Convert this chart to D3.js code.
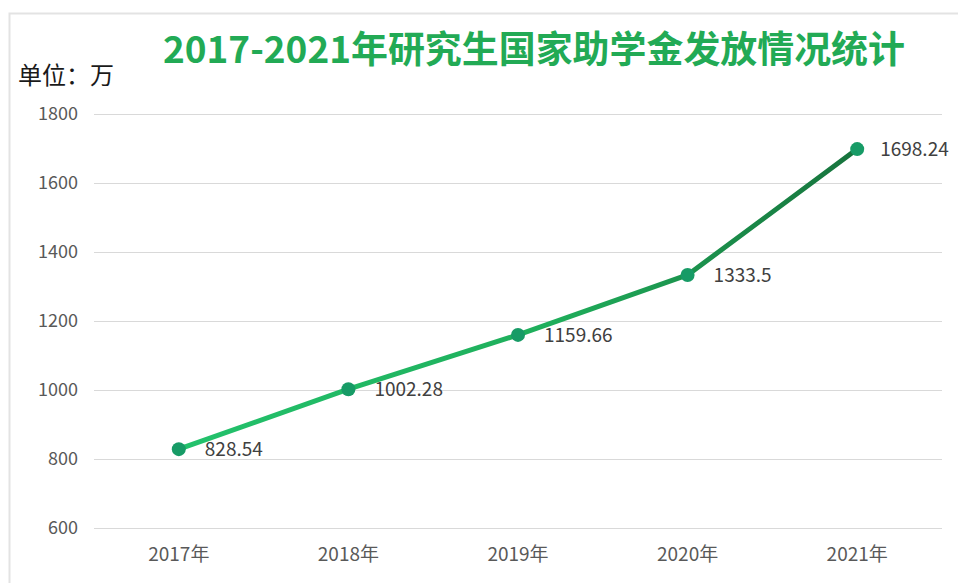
<!DOCTYPE html>
<html>
<head>
<meta charset="utf-8">
<script src="https://cdn.jsdelivr.net/npm/d3@7"></script>
<style>
  html, body { margin: 0; padding: 0; background: #fff; }
  svg { display: block; }
</style>
</head>
<body>
<div id="chart"></div>
<script>
// Données
const years = ["2017年", "2018年", "2019年", "2020年", "2021年"];
const amounts = [828.54, 1002.28, 1159.66, 1333.5, 1698.24];
const labels = ["828.54", "1002.28", "1159.66", "1333.5", "1698.24"];
const yTicks = [600, 800, 1000, 1200, 1400, 1600, 1800];

const width = 958, height = 583;
const plotLeft = 94, plotRight = 942;
const plotTop = 114, plotBottom = 528;

const svg = d3.select("#chart")
    .append("svg")
    .attr("width", width)
    .attr("height", height);

// Cadre
svg.append("path")
    .attr("d", `M9.5,${height} V13.5 H${width}`)
    .attr("fill", "none")
    .attr("stroke", "#e3e3e3")
    .attr("stroke-width", 2);

const x = d3.scaleBand()
    .domain(years)
    .range([plotLeft, plotRight]);

const y = d3.scaleLinear()
    .domain([600, 1800])
    .range([plotBottom, plotTop]);

// Grille
svg.append("g")
    .selectAll("line")
    .data(yTicks)
    .join("line")
    .attr("x1", plotLeft)
    .attr("x2", plotRight)
    .attr("y1", d => y(d) + 0.5)
    .attr("y2", d => y(d) + 0.5)
    .attr("stroke", "#d9d9d9")
    .attr("stroke-width", 1);

// Axe Y
const yAxis = svg.append("g")
    .attr("transform", `translate(${plotLeft - 16},0)`)
    .call(d3.axisLeft(y).tickValues(yTicks).tickFormat(d3.format("d")).tickSize(0).tickPadding(0));
yAxis.select(".domain").remove();
yAxis.selectAll("text")
    .attr("font-family", "'Noto Sans CJK SC', sans-serif")
    .attr("font-size", 18)
    .attr("fill", "#595959");

// Axe X
const xAxis = svg.append("g")
    .attr("transform", `translate(0,${plotBottom})`)
    .call(d3.axisBottom(x).tickSize(0).tickPadding(20));
xAxis.select(".domain").remove();
xAxis.selectAll("text")
    .attr("font-family", "'Noto Sans CJK SC', sans-serif")
    .attr("font-size", 19)
    .attr("fill", "#595959");

// Dégradé de la ligne
const cx = d => x(d) + x.bandwidth() / 2;

const grad = svg.append("defs")
    .append("linearGradient")
    .attr("id", "lineGrad")
    .attr("gradientUnits", "userSpaceOnUse")
    .attr("x1", cx(years[0]))
    .attr("x2", cx(years[4]))
    .attr("y1", 0).attr("y2", 0);
grad.append("stop").attr("offset", "0%").attr("stop-color", "#23c26c");
grad.append("stop").attr("offset", "55%").attr("stop-color", "#1fae5b");
grad.append("stop").attr("offset", "100%").attr("stop-color", "#17733d");

const line = d3.line()
    .x((d, i) => cx(years[i]))
    .y(d => y(d));

svg.append("path")
    .datum(amounts)
    .attr("d", line)
    .attr("fill", "none")
    .attr("stroke", "url(#lineGrad)")
    .attr("stroke-width", 5)
    .attr("stroke-linejoin", "round");

// Points
svg.append("g")
    .selectAll("circle")
    .data(amounts)
    .join("circle")
    .attr("cx", (d, i) => cx(years[i]))
    .attr("cy", d => y(d))
    .attr("r", 7)
    .attr("fill", "#179b66");

// Étiquettes
svg.append("g")
    .selectAll("text")
    .data(amounts)
    .join("text")
    .attr("x", (d, i) => cx(years[i]) + (i === 4 ? 23 : 26))
    .attr("y", d => y(d))
    .attr("dy", "0.35em")
    .attr("font-family", "'Noto Sans CJK SC', sans-serif")
    .attr("font-size", 19)
    .attr("fill", "#404040")
    .text((d, i) => labels[i]);

// Titre
svg.append("text")
    .attr("x", 534)
    .attr("y", 63)
    .attr("text-anchor", "middle")
    .attr("font-family", "'Noto Sans CJK SC', sans-serif")
    .attr("font-size", 37)
    .attr("font-weight", "bold")
    .attr("fill", "#22aa55")
    .attr("textLength", 742)
    .attr("lengthAdjust", "spacingAndGlyphs")
    .text("2017-2021年研究生国家助学金发放情况统计");

// Unité
svg.append("text")
    .attr("x", 18)
    .attr("y", 84)
    .attr("font-family", "'Noto Sans CJK SC', sans-serif")
    .attr("font-size", 24)
    .attr("fill", "#1a1a1a")
    .text("单位：万");
</script>
</body>
</html>
